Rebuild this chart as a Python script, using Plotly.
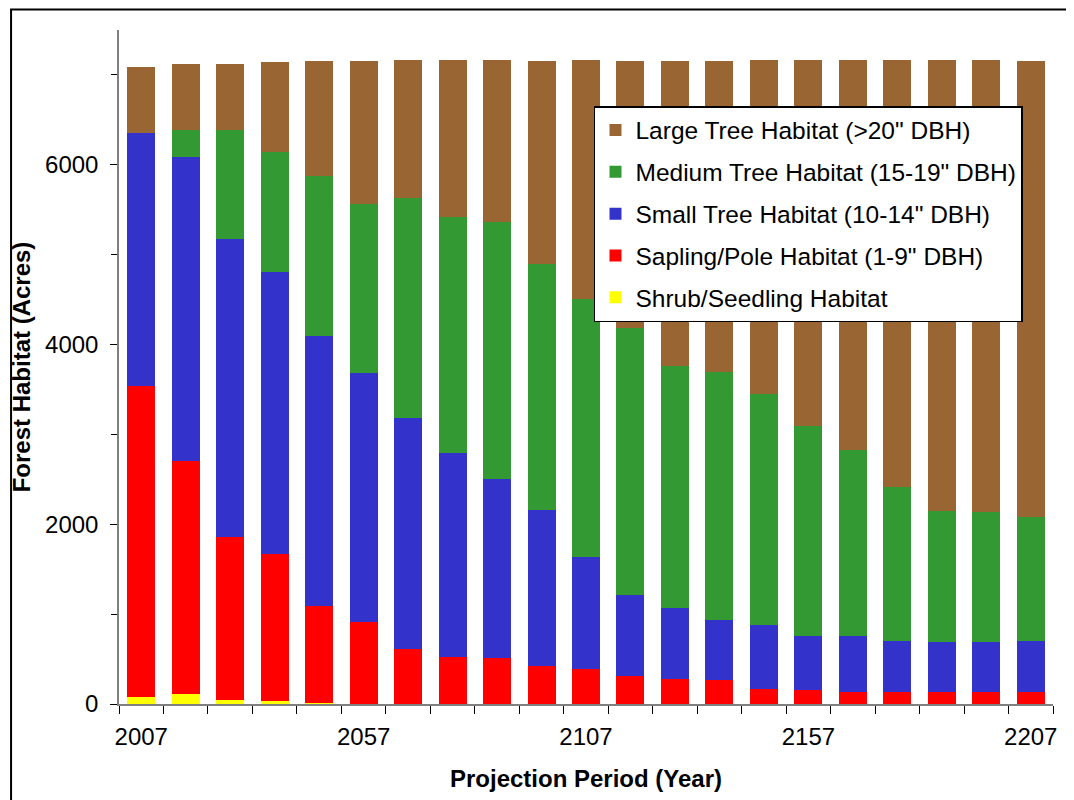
import plotly.graph_objects as go

years = [2007, 2017, 2027, 2037, 2047, 2057, 2067, 2077, 2087, 2097, 2107,
         2117, 2127, 2137, 2147, 2157, 2167, 2177, 2187, 2197, 2207]
tick_years = [2007, 2057, 2107, 2157, 2207]

shrub =   [78, 111, 44, 33, 11, 0, 0, 0, 0, 0, 0, 0, 0, 0, 0, 0, 0, 0, 0, 0, 0]
sapling = [3463, 2593, 1814, 1636, 1079, 916, 612, 523, 515, 426, 393,
           315, 278, 270, 167, 159, 137, 137, 137, 137, 137]
small =   [2812, 3382, 3316, 3137, 3004, 2767, 2570, 2270, 1988, 1736, 1243,
           898, 790, 665, 712, 598, 620, 564, 553, 553, 564]
medium =  [0, 304, 1216, 1336, 1781, 1883, 2448, 2622, 2863, 2737, 2870,
           2974, 2696, 2762, 2573, 2339, 2073, 1713, 1457, 1446, 1380]
large =   [734, 731, 731, 1001, 1279, 1588, 1535, 1750, 1799, 2255, 2659,
           2967, 3390, 3457, 3713, 4069, 4335, 4751, 5018, 5029, 5073]

series = [
    ("Shrub/Seedling Habitat", shrub, "#FFFF00"),
    ("Sapling/Pole Habitat (1-9\" DBH)", sapling, "#FF0000"),
    ("Small Tree Habitat (10-14\" DBH)", small, "#3333CC"),
    ("Medium Tree Habitat (15-19\" DBH)", medium, "#339933"),
    ("Large Tree Habitat (>20\" DBH)", large, "#996633"),
]

FONT = "Liberation Sans, Arial, Helvetica, sans-serif"

fig = go.Figure()
n = len(series)
for i, (name, vals, col) in enumerate(series):
    fig.add_trace(go.Bar(x=years, y=vals, name=name, marker_color=col,
                         marker_line_width=0, legendgroup=f"g{i}",
                         legendrank=n - i))

# page body has an 8px margin; work in screenshot pixels and shift
OFF = 8
W, H = 1074 - OFF, 800 - OFF
L, R, T, B = 117.3 - OFF, 1052.7 - OFF, 30 - OFF, 704 - OFF

def px_x(p):
    return (p - OFF - L) / (R - L)

def px_y(p):
    return (B - (p - OFF)) / (B - T)

fig.update_layout(
    width=W, height=H,
    margin=dict(l=L, r=W - R, t=T, b=H - B, pad=0),
    barmode="stack", bargap=0.37,
    plot_bgcolor="white", paper_bgcolor="white",
    font=dict(family=FONT, size=24, color="black"),
    legend=dict(
        x=px_x(593), y=px_y(106), xanchor="left", yanchor="top",
        traceorder="grouped", tracegroupgap=7,
        bordercolor="black", borderwidth=1.5, bgcolor="white",
        font=dict(family=FONT, size=24.5, color="black"),
        itemwidth=30,
    ),
    xaxis=dict(
        range=[2002, 2212], tickmode="array", tickvals=tick_years,
        ticktext=[str(y) for y in tick_years],
        ticks="outside", ticklen=10, tickcolor="rgba(0,0,0,0)",
        tickfont=dict(size=24),
        showline=True, linecolor="#808080", linewidth=1.5,
        showgrid=False, zeroline=False,
        minor=dict(tickmode="array", tickvals=[2002 + 10 * k for k in range(22)],
                   ticks="outside", ticklen=8, tickcolor="black", tickwidth=1,
                   showgrid=False),
        title=dict(text="<b>Projection Period (Year)</b>", font=dict(size=24), standoff=22),
    ),
    yaxis=dict(
        range=[0, 7500], tickmode="linear", tick0=0, dtick=2000,
        ticks="outside", ticklen=7, tickcolor="black", tickwidth=1,
        tickfont=dict(size=24), ticklabelstandoff=7,
        showline=True, linecolor="#808080", linewidth=1.5,
        showgrid=False, zeroline=False,
        minor=dict(dtick=1000, ticks="outside", ticklen=6, tickcolor="black",
                   tickwidth=1, showgrid=False),
        title=dict(text="<b>Forest Habitat (Acres)</b>", font=dict(size=24), standoff=8),
    ),
    shapes=[dict(type="rect", xref="paper", yref="paper",
                 x0=px_x(9.2), x1=px_x(1090), y0=px_y(820), y1=px_y(9.5),
                 line=dict(color="black", width=2), fillcolor="rgba(0,0,0,0)",
                 layer="below")],
)

fig.write_html("out.html", config={"displayModeBar": False, "responsive": False})
